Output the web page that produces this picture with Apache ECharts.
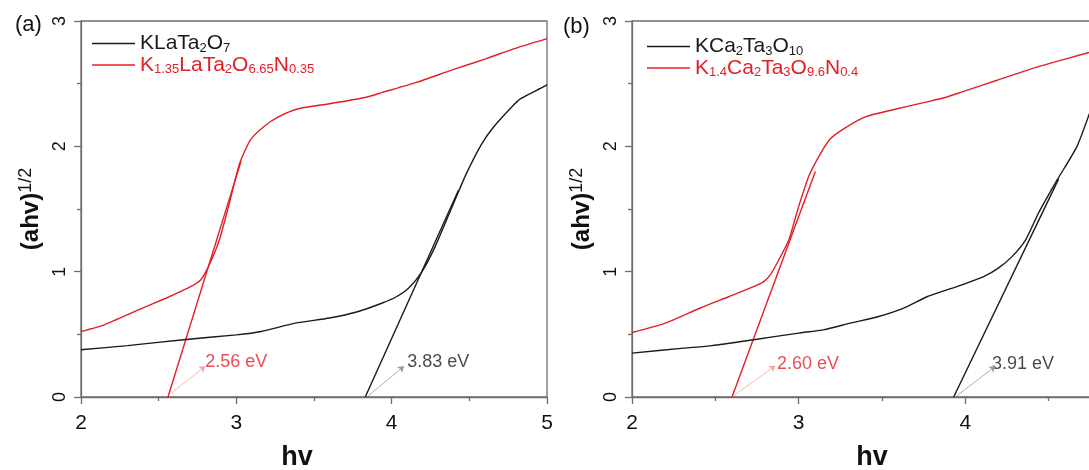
<!DOCTYPE html>
<html>
<head>
<meta charset="utf-8">
<script src="https://cdn.jsdelivr.net/npm/echarts@6/dist/echarts.min.js"></script>
<style>
    html, body {margin: 0; padding: 0; background: #fff;}
    #main {width: 1089px; height: 470px;}
</style>
</head>
<body>
<div id="main"></div>
<script>
// data
var aBlackX = [2, 2.3, 2.66, 3.0, 3.16, 3.38, 3.6, 3.78, 3.94, 4.03, 4.11, 4.19, 4.28, 4.39, 4.48, 4.58, 4.66, 4.77, 4.83, 4.97, 5.0];
var aBlackY = [0.377, 0.41, 0.457, 0.496, 0.523, 0.589, 0.63, 0.68, 0.75, 0.80, 0.87, 0.99, 1.2, 1.52, 1.78, 2.02, 2.16, 2.31, 2.38, 2.47, 2.49];
var aRedX = [2, 2.15, 2.37, 2.55, 2.69, 2.77, 2.82, 2.89, 2.96, 3.02, 3.09, 3.18, 3.27, 3.40, 3.6, 3.83, 3.94, 4.16, 4.39, 4.61, 4.79, 5.0];
var aRedY = [0.523, 0.576, 0.695, 0.79, 0.87, 0.934, 1.04, 1.25, 1.57, 1.86, 2.05, 2.16, 2.235, 2.30, 2.34, 2.39, 2.43, 2.51, 2.61, 2.70, 2.78, 2.86];
var bBlackX = [2, 2.31, 2.48, 2.73, 3.0, 3.15, 3.31, 3.48, 3.63, 3.77, 3.98, 4.11, 4.2, 4.28, 4.36, 4.44, 4.55, 4.67, 4.76];
var bBlackY = [0.35, 0.39, 0.41, 0.457, 0.51, 0.536, 0.589, 0.642, 0.709, 0.80, 0.895, 0.96, 1.03, 1.12, 1.25, 1.47, 1.73, 2.0, 2.32];
var bRedX = [2, 2.2, 2.41, 2.58, 2.73, 2.79, 2.83, 2.87, 2.94, 3.0, 3.06, 3.13, 3.19, 3.27, 3.40, 3.56, 3.77, 3.88, 3.98, 4.19, 4.40, 4.61, 4.76];
var bRedY = [0.515, 0.59, 0.71, 0.80, 0.88, 0.92, 0.974, 1.067, 1.25, 1.52, 1.76, 1.94, 2.06, 2.14, 2.235, 2.29, 2.355, 2.39, 2.434, 2.527, 2.62, 2.70, 2.755];

// tangent lines (start on the x axis, end on the curve)
var aRedFit = [[2.56, 0], [3.03, 1.88]];
var aBlackFit = [[3.83, 0], [4.43, 1.65]];
var bRedFit = [[2.60, 0], [3.10, 1.80]];
var bBlackFit = [[3.93, 0], [4.56, 1.74]];

// arrows and their text
var aRedArrow = [[2.57, 0.02], [2.80, 0.245]];
var aBlackArrow = [[3.85, 0.01], [4.08, 0.245]];
var bRedArrow = [[2.61, 0.01], [2.86, 0.25]];
var bBlackArrow = [[3.95, 0.01], [4.18, 0.245]];
var gapText = ["2.56 eV", "3.83 eV", "2.60 eV", "3.91 eV"];
var gapTextPos = [[2.80, 0.28], [4.10, 0.28], [2.87, 0.26], [4.16, 0.26]];

var names = ["KLaTa2O7", "K1.35LaTa2O6.65N0.35", "KCa2Ta3O10", "K1.4Ca2Ta3O9.6N0.4"];
var panelLabels = ["(a)", "(b)"];
var xTicks = [2, 5, 1];
var yTicks = [0, 3, 1];

var RED = "#e41e26";
var BLACK = "#1a1a1a";
var AXIS = "#6e6e6e";
var FONT = "Liberation Sans, Arial, sans-serif";

function zip(xs, ys) {
    var out = [];
    for (var i = 0; i < xs.length; i++) {
        out.push([xs[i], ys[i]]);
    }
    return out;
}

// chemical formula -> rich text with subscripts
function formula(name) {
    return name.replace(/([A-Za-z]+)/g, "{n|$1}").replace(/(\d+(?:\.\d+)?)/g, "{s|$1}");
}

function xAxis(idx) {
    return {
        type: "value", gridIndex: idx,
        min: xTicks[0], max: xTicks[1], interval: xTicks[2],
        name: "hv", nameLocation: "middle", nameGap: 47,
        nameTextStyle: {fontSize: 27, fontWeight: "bold", color: "#111", fontFamily: FONT,
            padding: idx == 0 ? [0, 34, 0, 0] : [0, 20, 0, 0]},
        axisLine: {lineStyle: {color: AXIS, width: 1.3}},
        axisTick: {length: 7, lineStyle: {color: AXIS, width: 1.3}},
        minorTick: {show: true, splitNumber: 2, length: 4, lineStyle: {color: AXIS, width: 1.3}},
        axisLabel: {fontSize: 21, color: "#111", margin: 16, fontFamily: FONT},
        splitLine: {show: false}
    };
}

function yAxis(idx) {
    return {
        type: "value", gridIndex: idx,
        min: yTicks[0], max: yTicks[1], interval: yTicks[2],
        name: "{b|(ahv)}{p|1/2}", nameLocation: "middle", nameGap: 36,
        nameTextStyle: {
            rich: {
                b: {fontSize: 24, fontWeight: "bold", color: "#111", fontFamily: FONT, lineHeight: 28},
                p: {fontSize: 18, color: "#111", fontFamily: FONT, verticalAlign: "top", lineHeight: 18}
            }
        },
        axisLine: {lineStyle: {color: AXIS, width: 1.3}},
        axisTick: {length: 7, lineStyle: {color: AXIS, width: 1.3}},
        minorTick: {show: true, splitNumber: 2, length: 4, lineStyle: {color: AXIS, width: 1.3}},
        axisLabel: {fontSize: 18, color: "#111", rotate: 90, margin: 12, fontFamily: FONT},
        splitLine: {show: false}
    };
}

function curve(name, idx, data, color) {
    return {
        name: name, type: "line", xAxisIndex: idx, yAxisIndex: idx,
        data: data, smooth: 0.2, showSymbol: false, symbol: "none",
        color: color, lineStyle: {color: color, width: 1.4}, z: 3
    };
}

function fit(idx, data, color, arrow, arrowColor) {
    return {
        type: "line", xAxisIndex: idx, yAxisIndex: idx,
        data: data, showSymbol: false, symbol: "none", silent: true,
        lineStyle: {color: color, width: 1.4}, z: 2,
        markLine: {
            silent: true, symbol: ["none", "arrow"], symbolSize: 6,
            label: {show: false},
            lineStyle: {color: arrowColor, width: 0.8, type: "solid"},
            data: [[{coord: arrow[0]}, {coord: arrow[1]}]]
        }
    };
}

function gapLabel(idx, i, color) {
    return {
        type: "scatter", xAxisIndex: idx, yAxisIndex: idx, silent: true,
        symbolSize: 0, data: [gapTextPos[i]],
        label: {show: true, position: "right", distance: 0, formatter: gapText[i],
            color: color, fontSize: 18, fontFamily: FONT}
    };
}

function legend(left, top, items) {
    return {
        orient: "vertical", left: left, top: top,
        itemWidth: 43, itemHeight: 1.5, itemGap: 0, icon: "rect",
        selectedMode: false,
        data: items,
        formatter: formula,
        textStyle: {
            padding: [0, 0, 0, 0],
            rich: {
                n: {fontSize: 21, fontFamily: FONT, lineHeight: 22},
                s: {fontSize: 13, fontFamily: FONT, lineHeight: 13, verticalAlign: "bottom"}
            }
        }
    };
}

var myChart = echarts.init(document.getElementById("main"));
var option = {
    backgroundColor: "#fff",
    animation: false,
    textStyle: {fontFamily: FONT},
    title: [
        {text: panelLabels[0], left: 10, top: 9, textStyle: {fontSize: 22, fontWeight: "normal", color: "#111", fontFamily: FONT}},
        {text: panelLabels[1], left: 558, top: 11, textStyle: {fontSize: 22, fontWeight: "normal", color: "#111", fontFamily: FONT}}
    ],
    grid: [
        {left: 81, top: 21, width: 466, height: 376, show: true, borderColor: AXIS, borderWidth: 1.3, outerBoundsMode: "none"},
        {left: 632, top: 21, width: 500, height: 376, show: true, borderColor: AXIS, borderWidth: 1.3, outerBoundsMode: "none"}
    ],
    legend: [
        legend(87, 28, [
            {name: names[0], textStyle: {color: BLACK}},
            {name: names[1], textStyle: {color: RED}}
        ]),
        legend(642, 31, [
            {name: names[2], textStyle: {color: BLACK}},
            {name: names[3], textStyle: {color: RED}}
        ])
    ],
    xAxis: [xAxis(0), xAxis(1)],
    yAxis: [yAxis(0), yAxis(1)],
    series: [
        curve(names[0], 0, zip(aBlackX, aBlackY), BLACK),
        curve(names[1], 0, zip(aRedX, aRedY), RED),
        fit(0, aRedFit, RED, aRedArrow, "#f2a5a5"),
        fit(0, aBlackFit, BLACK, aBlackArrow, "#9a9a9a"),
        gapLabel(0, 0, RED),
        gapLabel(0, 1, BLACK),
        curve(names[2], 1, zip(bBlackX, bBlackY), BLACK),
        curve(names[3], 1, zip(bRedX, bRedY), RED),
        fit(1, bRedFit, RED, bRedArrow, "#f2a5a5"),
        fit(1, bBlackFit, BLACK, bBlackArrow, "#9a9a9a"),
        gapLabel(1, 2, RED),
        gapLabel(1, 3, BLACK)
    ]
};
myChart.setOption(option);
</script>
</body>
</html>
